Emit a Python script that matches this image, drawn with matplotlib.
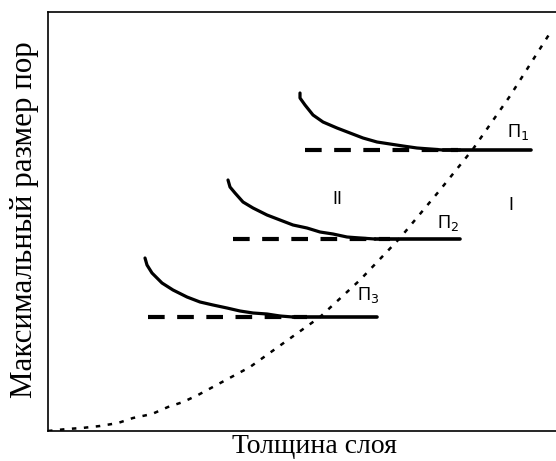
import matplotlib
matplotlib.use("Agg")
import matplotlib.pyplot as plt
import numpy as np

# граница слоя (пунктир)
bound_x = [0, 19, 34, 52, 70, 85, 104, 120, 135, 150, 202, 272, 312, 352, 392, 425, 462, 502]
bound_y = [0, 2, 3, 5, 8, 13, 17, 24, 29, 36, 64, 114, 151, 193, 241, 282, 335, 398]

# кривые для П1, П2, П3
p1_x = [252, 252, 257, 265, 275, 289, 302, 315, 329, 342, 355, 369, 382, 395, 412]
p1_y = [338, 333, 326, 316, 309, 303, 298, 293, 289, 287, 285, 283, 282, 281, 281]
p2_x = [180, 182, 187, 195, 205, 219, 232, 245, 259, 272, 285, 299, 312, 327]
p2_y = [251, 244, 238, 229, 223, 216, 211, 206, 203, 199, 197, 194, 193, 192]
p3_x = [97, 99, 104, 114, 125, 139, 152, 165, 179, 192, 205, 219, 232, 245, 257]
p3_y = [173, 166, 158, 148, 141, 134, 129, 126, 123, 120, 118, 117, 115, 114, 114]

# уровни П: y, начало штриховой, конец штриховой, начало сплошной, конец сплошной
levels = [(281, 257, 410, 395, 483),
          (192, 185, 342, 327, 412),
          (114, 100, 259, 245, 329)]

fig = plt.figure(figsize=(5.56, 4.61), dpi=100)
ax = fig.add_axes([48/556, 30/461, 1 - 48/556, 419/461])
ax.set_xlim(0, 508)
ax.set_ylim(0, 419)

ax.plot(bound_x, bound_y, color="black", lw=1.8, linestyle=(0, (1.8, 3.0)))
for cx, cy in [(p1_x, p1_y), (p2_x, p2_y), (p3_x, p3_y)]:
    ax.plot(cx, cy, color="black", lw=2.3, solid_capstyle="round")
for y, d0, d1, s0, s1 in levels:
    ax.plot([d0, d1], [y, y], color="black", lw=3, linestyle=(0, (4, 3)), dash_capstyle="butt")
    ax.plot([s0, s1], [y, y], color="black", lw=2.6, solid_capstyle="round")

tf = dict(family="Liberation Sans", fontsize=13, color="black")
ax.text(459, 294, "П$_1$", **tf)
ax.text(389, 203, "П$_2$", **tf)
ax.text(309, 131, "П$_3$", **tf)
ax.text(289, 232, "II", ha="center", va="center", **tf)
ax.text(463, 226, "I", ha="center", va="center", **tf)

ax.set_xticks([])
ax.set_yticks([])
ax.spines["right"].set_visible(False)
for s in ["left", "bottom", "top"]:
    ax.spines[s].set_linewidth(1.2)

fig.text(315/556, 1 - 453/461, "Толщина слоя", ha="center", va="baseline",
         family="Liberation Serif", fontsize=20)
fig.text(25/556, 1 - 220/461, "Максимальный размер пор", ha="center", va="center",
         rotation=90, family="Liberation Serif", fontsize=22.3)

fig.savefig("out.png", dpi=100)
